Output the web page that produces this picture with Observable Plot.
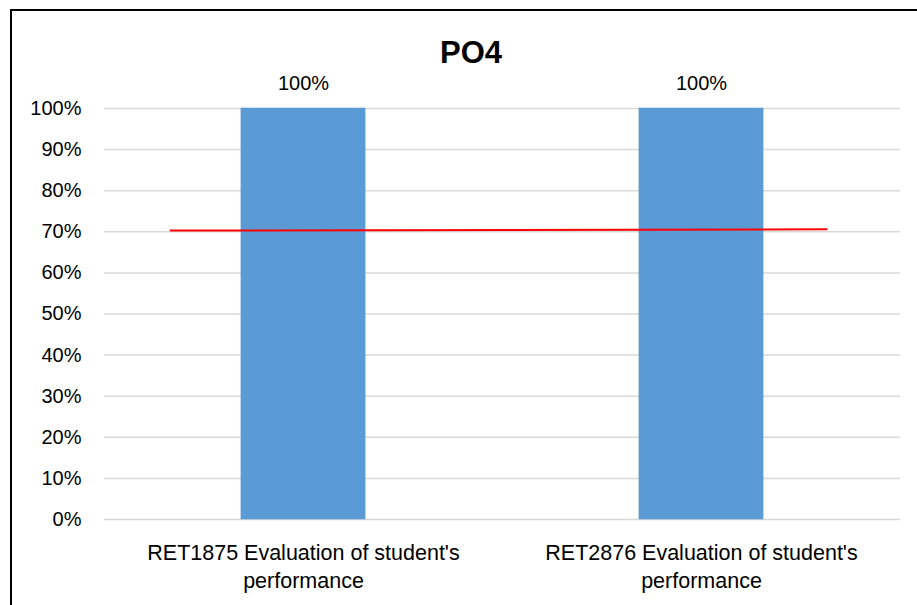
<!DOCTYPE html>
<html>
<head>
<meta charset="utf-8">
<script src="https://cdn.jsdelivr.net/npm/d3@7"></script>
<script src="https://cdn.jsdelivr.net/npm/@observablehq/plot@0.6"></script>
<style>
  html, body { margin: 0; padding: 0; background: #fff; }
  #wrap { position: relative; width: 917px; height: 605px; overflow: hidden; }
  #border { position: absolute; left: 10px; top: 9px; width: 1000px; height: 1000px; border: 2px solid #000; box-sizing: border-box; pointer-events: none; }
  #title { position: absolute; left: 0; width: 942px; top: 35px; text-align: center; font: bold 31px "Liberation Sans", Arial, sans-serif; color: #000; }
  #chart { position: absolute; left: 0; top: 0; }
</style>
</head>
<body>
<div id="wrap">
  <div id="chart"></div>
  <div id="border"></div>
  <div id="title">PO4</div>
</div>
<script>
// Data
const categories = ["RET1875 Evaluation of student's\nperformance", "RET2876 Evaluation of student's\nperformance"];
const values = [1.00, 1.00];
const dataLabels = ["100%", "100%"];
const targetX = [0.166, 1.814];   // red target line ends (category-axis units)
const targetY = [0.703, 0.706];
const yTicks = [0, 0.1, 0.2, 0.3, 0.4, 0.5, 0.6, 0.7, 0.8, 0.9, 1.0];

const bars = categories.map((c, i) => ({ pos: i + 0.5, value: values[i], label: dataLabels[i] }));
const target = targetX.map((x, i) => ({ x, y: targetY[i] }));
const halfWidth = 0.156;

const font = '"Liberation Sans", Arial, sans-serif';

const chart = Plot.plot({
  width: 917,
  height: 605,
  marginLeft: 104,
  marginRight: 17,
  marginTop: 108,
  marginBottom: 86,
  style: { fontFamily: font, background: "transparent" },
  x: { type: "linear", domain: [0, 2] },
  y: { domain: [0, 1] },
  marks: [
    Plot.ruleY(yTicks, { stroke: "#d9d9d9", strokeWidth: 1.5 }),
    Plot.rectY(bars, { x1: d => d.pos - halfWidth, x2: d => d.pos + halfWidth, y1: 0, y2: "value", fill: "#5b9bd5", stroke: "#5b9bd5", strokeWidth: 0.5 }),
    Plot.line(target, { x: "x", y: "y", stroke: "#ff0000", strokeWidth: 2 }),
    Plot.text(bars, { x: "pos", y: "value", text: "label", dy: -25, fontSize: 20, fill: "#000" }),
    Plot.axisY({ ticks: yTicks, tickFormat: d3.format(".0%"), tickSize: 0, tickPadding: 23, fontSize: 20, fill: "#000" }),
    Plot.axisX({ ticks: [0.5, 1.5], tickFormat: (d) => categories[Math.round(d - 0.5)], tickSize: 0, tickPadding: 21, fontSize: 21.5, lineHeight: 1.3, fill: "#000" })
  ]
});
document.getElementById("chart").appendChild(chart);
</script>
</body>
</html>
